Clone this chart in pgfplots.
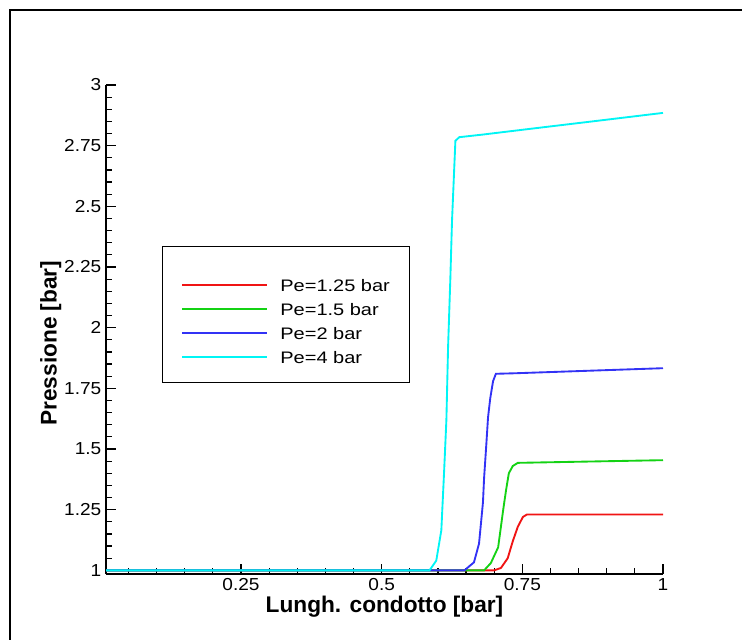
\documentclass[border=0pt]{standalone}
\usepackage{fontspec}
\setmainfont{Liberation Sans}
\newfontfamily\tickfont[FakeStretch=1.1]{Liberation Sans}
\newfontfamily\legfont[FakeStretch=1.2]{Liberation Sans}
\usepackage{pgfplots}
\pgfplotsset{compat=1.18}
\definecolor{cred}{RGB}{240,20,20}
\definecolor{cgreen}{RGB}{20,210,20}
\definecolor{cblue}{RGB}{50,50,245}
\definecolor{ccyan}{RGB}{0,245,245}
\newcommand\ls{\rule{0pt}{21pt}}
\begin{document}
\begin{tikzpicture}
\path[use as bounding box] (0,0) rectangle (556.5pt,479.25pt);
\draw[line width=1.5pt] (7.125pt,-5pt) -- (7.125pt,471.75pt) -- (565pt,471.75pt);
\begin{axis}[
  at={(79.5pt,48.75pt)}, anchor=south west,
  scale only axis, width=417.75pt, height=366.75pt,
  xmin=0.01, xmax=1, ymin=0.985, ymax=3,
  axis x line*=bottom, axis y line*=left,
  axis line style={line width=1.2pt},
  xtick={0.25,0.5,0.75,1},
  ytick={1,1.25,1.5,1.75,2,2.25,2.5,2.75,3},
  minor xtick={0.05,0.1,...,0.96},
  minor ytick={1.05,1.1,...,2.96},
  xtick align=inside, ytick align=inside,
  major tick length=7.5pt, minor tick length=4.5pt,
  every tick/.style={line width=0.9pt, black},
  /pgf/number format/assume math mode=true,
  tick label style={font=\tickfont\fontsize{13}{15}\selectfont},
  xlabel={Lungh. condotto [bar]},
  ylabel={Pressione [bar]},
  label style={font=\fontsize{17}{20}\selectfont\bfseries},
  xlabel style={at={(axis description cs:0.5,-0.0675)}, anchor=center},
  ylabel style={at={(axis description cs:-0.099,0.472)}, anchor=center},
  legend style={at={(axis description cs:0.1005,0.6708)}, anchor=north west,
    draw=black, line width=0.8pt, inner xsep=14pt, inner ysep=11.75pt,
    font=\legfont\fontsize{12.5}{14}\selectfont, column sep=8pt, row sep=-6.45pt,
    nodes={inner sep=1pt}},
  legend cell align=left,
  legend image code/.code={\draw[#1, line width=1.4pt] (0pt,-5pt) -- (64pt,-5pt);},
]
\addplot[cred, line width=1.4pt] coordinates {
(0.01,1) (0.700,1) (0.712,1.01) (0.724,1.05) (0.733,1.12) (0.742,1.18) (0.751,1.22) (0.758,1.23) (1,1.23)};
\addlegendentry{\ls Pe=1.25 bar}
\addplot[cgreen, line width=1.4pt] coordinates {
(0.01,1) (0.682,1) (0.694,1.03) (0.707,1.095) (0.716,1.25) (0.721,1.33) (0.726,1.40) (0.733,1.43) (0.742,1.443) (1,1.454)};
\addlegendentry{\ls Pe=1.5 bar}
\addplot[cblue, line width=1.4pt] coordinates {
(0.01,1) (0.647,1) (0.664,1.033) (0.673,1.11) (0.680,1.28) (0.682,1.38) (0.686,1.52) (0.689,1.63) (0.693,1.71) (0.698,1.78) (0.703,1.81) (0.735,1.812) (1,1.833)};
\addlegendentry{\ls Pe=2 bar}
\addplot[ccyan, line width=1.4pt] coordinates {
(0.01,1) (0.585,1) (0.597,1.04) (0.606,1.165) (0.611,1.41) (0.615,1.62) (0.618,1.92) (0.622,2.20) (0.625,2.44) (0.629,2.66) (0.631,2.77) (0.638,2.785) (0.677,2.795) (0.77,2.821) (0.889,2.854) (1,2.885)};
\addlegendentry{\ls Pe=4 bar}
\end{axis}
\end{tikzpicture}
\end{document}
